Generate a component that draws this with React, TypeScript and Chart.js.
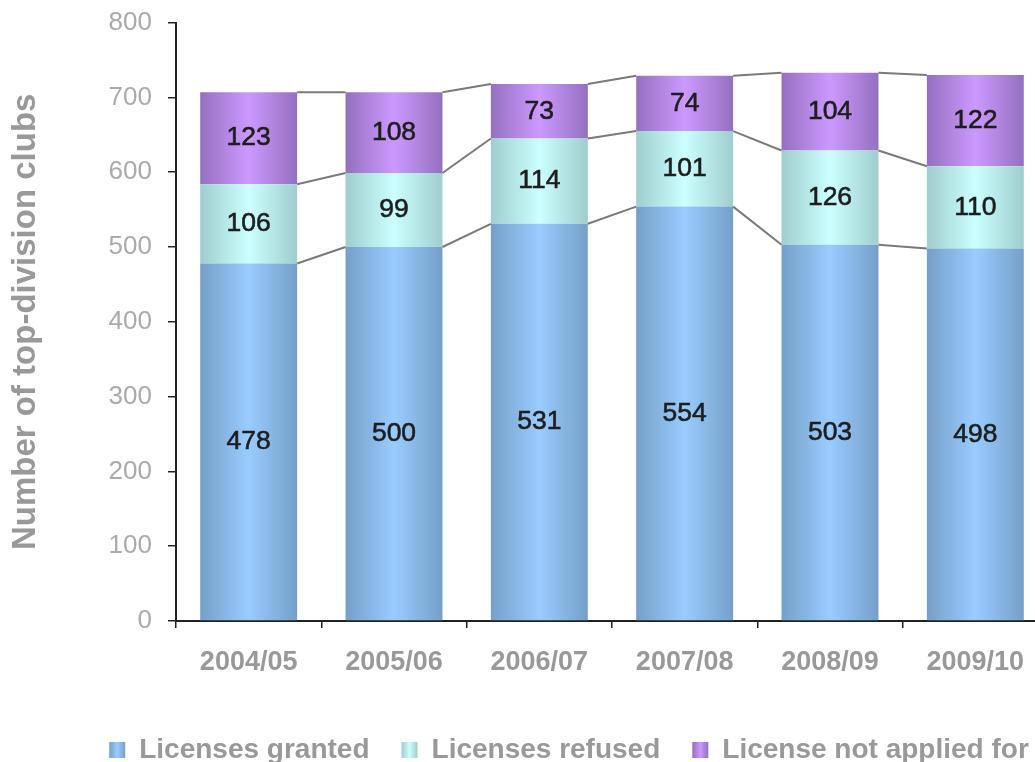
import { useEffect, useRef } from 'react';
import { Chart, registerables } from 'chart.js';

Chart.register(...registerables);

const categories = ['2004/05', '2005/06', '2006/07', '2007/08', '2008/09', '2009/10'];
const licensesGranted = [478, 500, 531, 554, 503, 498];
const licensesRefused = [106, 99, 114, 101, 126, 110];
const licenseNotApplied = [123, 108, 73, 74, 104, 122];
const seriesNames = ['Licenses granted', 'Licenses refused', 'License not applied for'];
const yMin = 0;
const yMax = 800;
const yStep = 100;

const FONT = "'Liberation Sans', Arial, sans-serif";
const BAR_PCT = 0.667;
const CANVAS_SHIFT = 9;
const LEGEND_CENTER_Y = 750 + CANVAS_SHIFT;
const LEGEND_PAD = 32;

const palette = [
  { dark: '#769fc8', light: '#99ccff' },
  { dark: '#a0cdcd', light: '#ccffff' },
  { dark: '#9470bf', light: '#cc99ff' },
];

function gradientFill(chart: any, x0: number, x1: number, p: { dark: string; light: string }) {
  if (!isFinite(x0) || !isFinite(x1) || x1 <= x0) return p.light;
  const g = chart.ctx.createLinearGradient(x0, 0, x1, 0);
  g.addColorStop(0, p.dark);
  g.addColorStop(0.5, p.light);
  g.addColorStop(1, p.dark);
  return g;
}

const seriesLinesPlugin = {
  id: 'seriesLines',
  afterDatasetsDraw(chart: any) {
    const ctx = chart.ctx;
    ctx.save();
    ctx.strokeStyle = '#7a7a7a';
    ctx.lineWidth = 2;
    chart.data.datasets.forEach((_: any, d: number) => {
      const meta = chart.getDatasetMeta(d);
      for (let i = 0; i < meta.data.length - 1; i++) {
        const a = meta.data[i].getProps(['x', 'y', 'width'], true);
        const b = meta.data[i + 1].getProps(['x', 'y', 'width'], true);
        ctx.beginPath();
        ctx.moveTo(a.x + a.width / 2, a.y);
        ctx.lineTo(b.x - b.width / 2, b.y);
        ctx.stroke();
      }
    });
    ctx.restore();
  },
};

const valueLabelsPlugin = {
  id: 'valueLabels',
  afterDatasetsDraw(chart: any) {
    const ctx = chart.ctx;
    ctx.save();
    ctx.font = `26.5px ${FONT}`;
    ctx.fillStyle = '#1e1e1e';
    ctx.strokeStyle = '#1e1e1e';
    ctx.lineWidth = 0.6;
    ctx.textAlign = 'center';
    ctx.textBaseline = 'middle';
    chart.data.datasets.forEach((ds: any, d: number) => {
      const meta = chart.getDatasetMeta(d);
      meta.data.forEach((el: any, i: number) => {
        const p = el.getProps(['x', 'y', 'base'], true);
        const t = String(ds.data[i]);
        const cy = (p.y + p.base) / 2;
        ctx.fillText(t, p.x, cy);
        ctx.strokeText(t, p.x, cy);
      });
    });
    ctx.restore();
  },
};

const legendPlacePlugin = {
  id: 'legendPlace',
  afterLayout(chart: any) {
    const lg = chart.legend;
    if (!lg) return;
    const lab = lg.options.labels;
    const size = lab.font && lab.font.size ? lab.font.size : 12;
    const itemHeight = Math.max(size, lab.boxHeight || size);
    const h = lg.height;
    lg.top = LEGEND_CENTER_Y - lab.padding - itemHeight / 2;
    lg.bottom = lg.top + h;
  },
  afterUpdate(chart: any) {
    const lg = chart.legend;
    if (!lg || !lg.legendItems || !lg.legendHitBoxes) return;
    lg.legendItems.forEach((it: any, k: number) => {
      const hb = lg.legendHitBoxes[k];
      if (!hb) return;
      it.fillStyle = gradientFill(chart, hb.left, hb.left + 16, palette[it.datasetIndex]);
    });
  },
};

export default function App() {
  const ref = useRef<HTMLCanvasElement | null>(null);

  useEffect(() => {
    if (!ref.current) return;
    const seriesValues = [licensesGranted, licensesRefused, licenseNotApplied];
    const datasets = seriesValues.map((data, k) => ({
      label: seriesNames[k],
      data,
      xAxisID: 'x',
      yAxisID: 'y',
      borderWidth: 0,
      categoryPercentage: 1,
      barPercentage: BAR_PCT,
      backgroundColor: (c: any) => {
        const chart = c.chart;
        const xs = chart.scales ? chart.scales.x : null;
        if (!xs || c.type !== 'data' || typeof c.dataIndex !== 'number') return palette[k].light;
        const cx = xs.getPixelForValue(c.dataIndex);
        const half = ((xs.width / categories.length) * BAR_PCT) / 2;
        return gradientFill(chart, cx - half, cx + half, palette[k]);
      },
    }));

    const chart = new Chart(ref.current, {
      type: 'bar',
      data: { labels: categories, datasets },
      options: {
        responsive: false,
        animation: false,
        layout: { padding: { top: 6.4, left: 0, right: 0, bottom: 0 } },
        scales: {
          x: {
            stacked: true,
            offset: true,
            grid: {
              display: true,
              drawOnChartArea: false,
              drawTicks: true,
              tickLength: 7,
              color: '#222',
              lineWidth: 1.5,
              offset: true,
            },
            border: { display: true, color: '#222', width: 2 },
            ticks: {
              color: '#999',
              font: { family: FONT, size: 27, weight: 'bold' },
              padding: 18,
              maxRotation: 0,
              autoSkip: false,
            },
            afterFit: (s: any) => {
              s.height = 81 + (34 - LEGEND_PAD);
            },
          },
          y: {
            stacked: true,
            position: 'left',
            min: yMin,
            max: yMax,
            ticks: {
              stepSize: yStep,
              color: '#aaa',
              font: { family: FONT, size: 26 },
              padding: 16,
            },
            grid: {
              drawOnChartArea: false,
              drawTicks: true,
              tickLength: 8,
              color: '#222',
              lineWidth: 1.5,
            },
            border: { display: true, color: '#222', width: 2 },
            title: {
              display: true,
              text: 'Number of top-division clubs',
              color: '#999',
              font: { family: FONT, size: 33, weight: 'bold' },
              padding: { top: 6, bottom: 0 },
            },
            afterFit: (s: any) => {
              s.width = 176;
            },
          },
          yR: {
            type: 'linear',
            position: 'right',
            display: true,
            grid: { display: false },
            border: { display: false },
            ticks: { display: false },
            afterFit: (s: any) => {
              s.width = 90;
            },
          },
        },
        plugins: {
          legend: {
            position: 'bottom',
            labels: {
              boxWidth: 16,
              boxHeight: 16,
              padding: LEGEND_PAD,
              color: '#999',
              font: { family: FONT, size: 28, weight: 'bold' },
            },
          },
          tooltip: { enabled: false },
        },
      } as any,
      plugins: [seriesLinesPlugin, valueLabelsPlugin, legendPlacePlugin],
    });

    return () => {
      chart.destroy();
    };
  }, []);

  return (
    <div
      style={{
        position: 'absolute',
        left: 0,
        top: 0,
        width: 1035,
        height: 762,
        overflow: 'hidden',
        background: '#fff',
      }}
    >
      <canvas
        ref={ref}
        width={1138}
        height={783}
        style={{ display: 'block', position: 'absolute', left: 0, top: -CANVAS_SHIFT, width: 1138, height: 783 }}
      />
    </div>
  );
}
